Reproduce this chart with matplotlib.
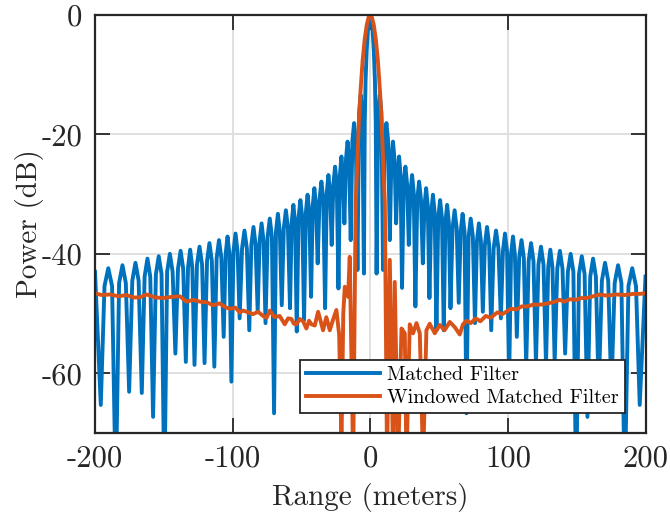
import matplotlib
matplotlib.use('Agg')
import matplotlib.pyplot as plt

# values: for every lobe the null, the two
# shoulders and the peak, from -200 m to +200 m
blue_range = [
    -200.0, -195.8,
    -193.1, -190.35, -187.6, -184.9,
    -182.5, -180.05, -177.6, -175.2,
    -172.9, -170.6, -168.3, -166.0,
    -163.95, -161.9, -159.85, -157.8,
    -155.75, -153.7, -151.65, -149.6,
    -147.6, -145.6, -143.6, -141.6,
    -139.7, -137.8, -135.9, -134.0,
    -132.4, -130.85, -129.3, -127.7,
    -125.9, -124.05, -122.2, -120.4,
    -118.6, -116.85, -115.1, -113.3,
    -111.6, -109.9, -108.2, -106.5,
    -105.1, -103.7, -102.3, -100.9,
    -99.4, -97.9, -96.4, -94.9,
    -93.15, -91.4, -89.65, -87.9,
    -86.4, -84.85, -83.3, -81.8,
    -80.4, -78.95, -77.5, -76.1,
    -74.55, -73.0, -71.45, -69.9,
    -68.5, -67.1, -65.7, -64.3,
    -62.8, -61.3, -59.8, -58.3,
    -57.1, -55.85, -54.6, -53.4,
    -52.1, -50.75, -49.4, -48.1,
    -46.8, -45.55, -44.3, -43.0,
    -41.8, -40.6, -39.4, -38.2,
    -36.85, -35.5, -34.15, -32.8,
    -31.6, -30.4, -29.2, -28.0,
    -26.8, -25.55, -24.3, -23.1,
    -22.0, -20.95, -19.9, -18.8,
    -17.65, -16.5, -15.35, -14.2,
    -13.0, -11.75, -10.5, -9.3,
    -8.1, -6.95, -5.8, -4.6,
    -4.0, -3.4, -2.6, -1.7, -0.8, 0.0, 0.8, 1.7, 2.6, 3.4, 4.0,
    4.6, 5.8, 6.95, 8.1,
    9.3, 10.5, 11.75, 13.0,
    14.2, 15.35, 16.5, 17.65,
    18.8, 19.9, 20.95, 22.0,
    23.1, 24.3, 25.55, 26.8,
    28.0, 29.2, 30.4, 31.6,
    32.8, 34.15, 35.5, 36.85,
    38.2, 39.4, 40.6, 41.8,
    43.0, 44.3, 45.55, 46.8,
    48.1, 49.4, 50.75, 52.1,
    53.4, 54.6, 55.85, 57.1,
    58.3, 59.8, 61.3, 62.8,
    64.3, 65.7, 67.1, 68.5,
    69.9, 71.45, 73.0, 74.55,
    76.1, 77.5, 78.95, 80.4,
    81.8, 83.3, 84.85, 86.4,
    87.9, 89.65, 91.4, 93.15,
    94.9, 96.4, 97.9, 99.4,
    100.9, 102.3, 103.7, 105.1,
    106.5, 108.2, 109.9, 111.6,
    113.3, 115.1, 116.85, 118.6,
    120.4, 122.2, 124.05, 125.9,
    127.7, 129.3, 130.85, 132.4,
    134.0, 135.9, 137.8, 139.7,
    141.6, 143.6, 145.6, 147.6,
    149.6, 151.65, 153.7, 155.75,
    157.8, 159.85, 161.9, 163.95,
    166.0, 168.3, 170.6, 172.9,
    175.2, 177.6, 180.05, 182.5,
    184.9, 187.6, 190.35, 193.1,
    195.8, 200.0,
]
blue_db = [
    -43.0, -65.3,
    -45.4, -42.4, -45.4, -80.0,
    -44.9, -41.9, -44.9, -63.1,
    -44.5, -41.5, -44.5, -63.3,
    -43.8, -40.8, -43.8, -67.3,
    -43.4, -40.4, -43.4, -80.0,
    -43.0, -40.0, -43.0, -56.7,
    -42.5, -39.5, -42.5, -58.1,
    -42.3, -39.3, -42.3, -58.6,
    -41.8, -38.8, -41.8, -58.3,
    -41.2, -38.2, -41.2, -58.9,
    -40.7, -37.7, -40.7, -53.9,
    -40.1, -37.1, -40.1, -61.4,
    -39.6, -36.6, -39.6, -50.8,
    -39.1, -36.1, -39.1, -52.8,
    -38.5, -35.5, -38.5, -49.7,
    -37.9, -34.9, -37.9, -51.6,
    -37.1, -34.1, -37.1, -66.7,
    -36.3, -33.3, -36.3, -48.6,
    -35.7, -32.7, -35.7, -49.1,
    -34.8, -31.8, -34.8, -53.0,
    -34.0, -31.0, -34.0, -51.1,
    -33.1, -30.1, -33.1, -47.2,
    -32.0, -29.0, -32.0, -41.6,
    -30.9, -27.9, -30.9, -49.1,
    -29.8, -26.8, -29.8, -38.5,
    -28.4, -25.4, -28.4, -45.8,
    -26.7, -23.7, -26.7, -34.9,
    -24.2, -21.2, -24.2, -37.7,
    -21.1, -18.1, -21.1, -42.7,
    -16.4, -13.4, -16.4, -43.3,
    -18.0, -11.0, -6.0, -2.5, -0.6, 0.0, -0.6, -2.5, -6.0, -11.0, -18.0,
    -43.3, -16.4, -13.4, -16.4,
    -42.7, -21.1, -18.1, -21.1,
    -37.7, -24.2, -21.2, -24.2,
    -34.9, -26.7, -23.7, -26.7,
    -45.7, -28.4, -25.4, -28.4,
    -38.5, -29.8, -26.8, -29.8,
    -48.8, -30.9, -27.9, -30.9,
    -41.6, -32.0, -29.0, -32.0,
    -47.4, -33.1, -30.1, -33.1,
    -52.8, -34.0, -31.0, -34.0,
    -52.8, -34.8, -31.8, -34.8,
    -49.1, -35.7, -32.7, -35.7,
    -48.2, -36.3, -33.3, -36.3,
    -66.7, -37.1, -34.1, -37.1,
    -51.6, -37.9, -34.9, -37.9,
    -49.7, -38.5, -35.5, -38.5,
    -52.8, -39.1, -36.1, -39.1,
    -50.8, -39.6, -36.6, -39.6,
    -61.4, -40.1, -37.1, -40.1,
    -53.9, -40.7, -37.7, -40.7,
    -58.9, -41.2, -38.2, -41.2,
    -58.3, -41.8, -38.8, -41.8,
    -58.6, -42.3, -39.3, -42.3,
    -58.1, -42.5, -39.5, -42.5,
    -56.7, -43.0, -40.0, -43.0,
    -80.0, -43.4, -40.4, -43.4,
    -67.3, -43.8, -40.8, -43.8,
    -63.3, -44.5, -41.5, -44.5,
    -63.1, -44.9, -41.9, -44.9,
    -80.0, -45.4, -42.4, -45.4,
    -65.3, -43.8,
]

win_range = [
    -200.0, -195.0, -189.3, -183.0, -177.0, -172.0, -167.5, -162.6, -156.0, -150.5,
    -144.0, -138.4, -133.6, -128.5, -123.9, -119.0, -114.2, -109.4, -105.5, -102.1,
    -98.0, -94.8, -92.4, -88.5, -85.2, -81.5, -77.9, -75.3, -73.0, -69.5,
    -65.8, -62.1, -59.7, -57.3, -55.5, -53.6, -51.2, -48.8, -46.4, -44.5,
    -42.7, -40.3, -37.9, -36.1, -34.3, -31.9, -29.4, -27.0, -24.6, -22.6,
    -20.9, -19.6, -18.5, -16.1, -14.9, -12.4, -10.6, -9.6, -8.3, -7.0,
    -5.5, -4.0, -2.5, -1.2, 0.0, 1.2, 2.5, 4.0, 5.5, 7.0,
    8.3, 9.6, 10.6, 12.2, 14.2, 16.6, 17.8, 20.2, 22.7, 25.1,
    26.3, 28.7, 31.1, 33.6, 36.0, 38.4, 40.8, 43.2, 46.9, 50.5,
    54.0, 57.8, 61.5, 65.0, 67.4, 69.9, 73.0, 76.7, 80.0, 83.9,
    87.5, 92.4, 96.0, 102.1, 106.3, 110.0, 114.2, 118.3, 123.9, 128.8,
    133.0, 137.7, 141.0, 145.0, 149.9, 153.0, 157.1, 162.0, 166.8, 172.0,
    178.9, 185.0, 191.0, 196.0, 200.0,
]
win_db = [
    -46.6, -46.9, -46.8, -47.1, -46.9, -47.3, -47.3, -46.8, -47.3, -47.4,
    -47.2, -47.1, -48.0, -47.7, -48.0, -48.1, -48.6, -48.3, -48.9, -49.2,
    -49.0, -49.8, -49.5, -49.8, -50.1, -49.7, -50.4, -50.7, -49.5, -50.6,
    -50.4, -51.8, -50.8, -50.9, -51.7, -51.8, -50.9, -51.3, -52.5, -51.2,
    -51.8, -52.0, -49.7, -51.2, -52.8, -50.6, -52.8, -51.0, -49.4, -53.5,
    -72.0, -50.0, -45.5, -47.2, -40.5, -75.0, -31.5, -26.0, -18.0, -12.5,
    -7.5, -4.0, -1.6, -0.4, 0.0, -0.4, -1.6, -4.0, -7.5, -12.5,
    -18.0, -26.0, -31.5, -75.0, -41.0, -75.0, -44.7, -75.0, -52.5, -53.3,
    -75.0, -51.8, -53.3, -51.6, -53.3, -75.0, -52.8, -51.7, -53.3, -51.9,
    -52.8, -51.4, -52.3, -53.5, -51.8, -51.2, -51.6, -50.8, -51.3, -50.4,
    -50.7, -49.8, -50.1, -49.2, -49.3, -48.8, -48.8, -48.5, -48.5, -48.3,
    -48.1, -47.7, -48.0, -47.6, -47.7, -47.4, -47.4, -47.1, -46.8, -47.0,
    -46.8, -46.9, -46.7, -46.7, -46.6,
]

x_ticks = [-200, -100, 0, 100, 200]
x_ticklabels = ['-200', '-100', '0', '100', '200']
y_ticks = [-60, -40, -20, 0]
y_ticklabels = ['-60', '-40', '-20', '0']

plt.rcParams['font.family'] = 'cmr10'
plt.rcParams['axes.unicode_minus'] = False

fig = plt.figure(figsize=(6.7, 5.18), dpi=100)
ax = fig.add_axes([95 / 670, 85 / 518, 550.5 / 670, 418 / 518])

ax.plot(blue_range, blue_db, color='#0072BD', lw=2.8, solid_joinstyle='round',
        label='Matched Filter')
ax.plot(win_range, win_db, color='#D95319', lw=2.8, solid_joinstyle='round',
        label='Windowed Matched Filter')

ax.set_xlim(-200, 200)
ax.set_ylim(-70, 0)
ax.set_xticks(x_ticks)
ax.set_xticklabels(x_ticklabels)
ax.set_yticks(y_ticks)
ax.set_yticklabels(y_ticklabels)

ax.grid(True, color='#e0e0e0', lw=1.4)
ax.set_axisbelow(True)
ax.tick_params(direction='in', length=11, width=1.3, top=True, right=True,
               labelsize=22, pad=9, colors='#262626')
for sp in ax.spines.values():
    sp.set_linewidth(1.6)
    sp.set_color('#262626')

ax.set_xlabel('Range (meters)', fontsize=21, color='#262626', labelpad=7)
ax.set_ylabel('Power (dB)', fontsize=21, color='#262626', labelpad=-2)

leg = ax.legend(loc='lower right', bbox_to_anchor=(0.963, 0.048), fontsize=14.5,
                fancybox=False, framealpha=1, edgecolor='#262626',
                handlelength=3.7, handletextpad=0.35, labelspacing=0.25,
                borderpad=0.3, borderaxespad=0)
leg.get_frame().set_linewidth(1.3)

fig.savefig('out.png', dpi=100)
